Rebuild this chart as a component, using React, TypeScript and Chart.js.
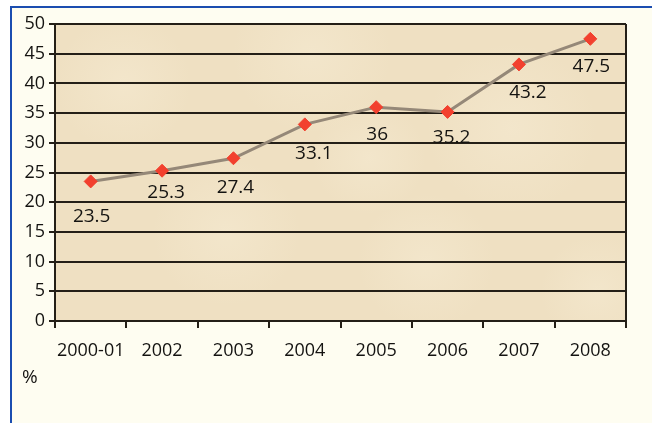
import React, { useEffect, useRef } from "react";
import { Chart, registerables } from "chart.js";

Chart.register(...registerables);

// Share of total, in percent, by period
const periods = ["2000-01", "2002", "2003", "2004", "2005", "2006", "2007", "2008"];
const shareValues = [23.5, 25.3, 27.4, 33.1, 36, 35.2, 43.2, 47.5];
const valueLabels = ["23.5", "25.3", "27.4", "33.1", "36", "35.2", "43.2", "47.5"];
const yTicks = [0, 5, 10, 15, 20, 25, 30, 35, 40, 45, 50];
const unitLabel = "%";

// Hand-placed label nudges (px) relative to each marker
const labelNudgeX = [1, 4, 2, 9, 1, 4, 9, 1];
const labelNudgeY = [35, 22, 29, 29, 27, 26, 28, 28];

const FONT = "'Open Sans', 'Noto Sans', sans-serif";
const INK = "#141311";
const GRID = "#241f17";

const parchmentPlugin = {
  id: "parchment",
  beforeDraw(chart: any) {
    const { ctx, chartArea: a } = chart;
    ctx.save();
    ctx.fillStyle = "#EFE0C2";
    ctx.fillRect(a.left, a.top, a.right - a.left, a.bottom - a.top);
    // soft lighter patches for a paper feel
    const spots = [
      [0.12, 0.2, 0.12],
      [0.45, 0.1, 0.14],
      [0.8, 0.35, 0.15],
      [0.3, 0.7, 0.13],
      [0.65, 0.8, 0.12],
      [0.95, 0.9, 0.1],
      [0.55, 0.45, 0.1],
    ];
    const w = a.right - a.left;
    const h = a.bottom - a.top;
    for (const [fx, fy, fr] of spots) {
      const cx = a.left + fx * w;
      const cy = a.top + fy * h;
      const r = fr * w;
      const g = ctx.createRadialGradient(cx, cy, 0, cx, cy, r);
      g.addColorStop(0, "rgba(247,237,214,0.45)");
      g.addColorStop(1, "rgba(247,237,214,0)");
      ctx.fillStyle = g;
      ctx.fillRect(a.left, a.top, w, h);
    }
    ctx.restore();
  },
  afterDatasetsDraw(chart: any) {
    const { ctx, chartArea: a } = chart;
    ctx.save();
    // right edge of the plot frame
    ctx.strokeStyle = GRID;
    ctx.lineWidth = 2;
    ctx.beginPath();
    ctx.moveTo(a.right, a.top);
    ctx.lineTo(a.right, a.bottom);
    ctx.stroke();

    // value labels under the markers
    const meta = chart.getDatasetMeta(0);
    ctx.fillStyle = INK;
    ctx.font = `19px ${FONT}`;
    ctx.textAlign = "center";
    ctx.textBaseline = "middle";
    meta.data.forEach((pt: any, i: number) => {
      ctx.fillText(valueLabels[i], pt.x + labelNudgeX[i], pt.y + labelNudgeY[i]);
    });

    // unit caption below the category axis
    ctx.textAlign = "left";
    ctx.font = `19px ${FONT}`;
    ctx.fillText(unitLabel, 22, 378);
    ctx.restore();
  },
};

export default function App() {
  const canvasRef = useRef<HTMLCanvasElement | null>(null);

  useEffect(() => {
    if (!canvasRef.current) return;
    const chart = new Chart(canvasRef.current, {
      type: "line",
      data: {
        labels: periods,
        datasets: [
          {
            data: shareValues,
            borderColor: "#958878",
            borderWidth: 3,
            pointStyle: "rectRot",
            pointRadius: 6.5,
            pointBackgroundColor: "#F2402E",
            pointBorderColor: "#F2402E",
            pointBorderWidth: 1,
            tension: 0,
          },
        ],
      },
      options: {
        animation: false,
        responsive: false,
        maintainAspectRatio: false,
        layout: { padding: { top: 24, right: 26, bottom: 0, left: 0 } },
        plugins: { legend: { display: false }, tooltip: { enabled: false } },
        scales: {
          x: {
            offset: true,
            grid: {
              offset: true,
              drawOnChartArea: false,
              drawTicks: true,
              tickLength: 7,
              color: GRID,
              lineWidth: 2,
            },
            border: { display: true, color: GRID, width: 2 },
            ticks: {
              color: INK,
              font: { family: FONT, size: 18 },
              padding: 12,
              maxRotation: 0,
              autoSkip: false,
            },
            afterFit: (s: any) => {
              s.height = 102;
            },
          },
          y: {
            min: 0,
            max: 50,
            afterBuildTicks: (s: any) => {
              s.ticks = yTicks.map((v) => ({ value: v }));
            },
            grid: {
              color: GRID,
              lineWidth: 2,
              drawTicks: true,
              tickLength: 6,
            },
            border: { display: true, color: GRID, width: 2 },
            ticks: {
              color: INK,
              font: { family: FONT, size: 18 },
              padding: 4,
            },
            afterFit: (s: any) => {
              s.width = 55;
            },
          },
        },
      },
      plugins: [parchmentPlugin],
    });
    return () => chart.destroy();
  }, []);

  return (
    <div
      style={{
        position: "fixed",
        left: 0,
        top: 0,
        width: 652,
        height: 423,
        background: "#ffffff",
        overflow: "hidden",
      }}
    >
      <div
        style={{
          position: "absolute",
          left: 10,
          top: 6,
          right: 0,
          bottom: 0,
          borderTop: "2px solid #1B4DB0",
          borderLeft: "2px solid #1B4DB0",
          background: "#FEFDF1",
        }}
      />
      <canvas
        ref={canvasRef}
        width={652}
        height={423}
        style={{ position: "absolute", left: 0, top: 0 }}
      />
    </div>
  );
}
